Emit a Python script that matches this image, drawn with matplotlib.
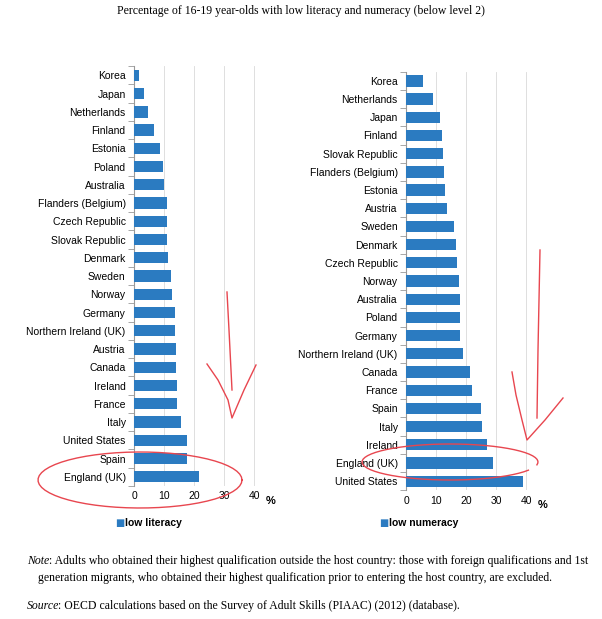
import matplotlib
matplotlib.use("Agg")
import matplotlib.pyplot as plt
import numpy as np

lit_countries = ["Korea","Japan","Netherlands","Finland","Estonia","Poland","Australia",
    "Flanders (Belgium)","Czech Republic","Slovak Republic","Denmark","Sweden","Norway",
    "Germany","Northern Ireland (UK)","Austria","Canada","Ireland","France","Italy",
    "United States","Spain","England (UK)"]
lit_values = [1.7,3.3,4.8,6.7,8.6,9.5,10.1,10.9,11.0,11.1,11.4,12.4,12.6,13.6,13.7,14.0,
    14.1,14.2,14.3,15.8,17.6,17.7,21.5]
num_countries = ["Korea","Netherlands","Japan","Finland","Slovak Republic","Flanders (Belgium)",
    "Estonia","Austria","Sweden","Denmark","Czech Republic","Norway","Australia","Poland",
    "Germany","Northern Ireland (UK)","Canada","France","Spain","Italy","Ireland",
    "England (UK)","United States"]
num_values = [5.7,8.9,11.2,12.1,12.3,12.6,12.9,13.8,15.9,16.6,17.1,17.7,17.9,18.0,18.1,
    19.1,21.4,22.0,24.9,25.2,27.1,29.0,38.8]
xticks = [0,10,20,30,40]

BAR = "#2B7BC1"
sans = "Liberation Sans"
serif = "Liberation Serif"
fig = plt.figure(figsize=(6.02,6.19), dpi=100)

def panel(rect, cats, vals, label, legx):
    ax = fig.add_axes(rect)
    y = np.arange(len(cats))
    ax.barh(y, vals, height=0.62, color=BAR, zorder=3)
    ax.set_ylim(len(cats)-0.5, -0.5)
    ax.set_yticks(y)
    ax.set_yticklabels(cats, fontsize=7.5, family=sans)
    ax.set_yticks(np.arange(len(cats)+1)-0.5, minor=True)
    ax.tick_params(axis='y', which='major', length=0, pad=6)
    ax.tick_params(axis='y', which='minor', length=4, color="#999999")
    ax.set_xlim(0, 40.3)
    ax.set_xticks(xticks)
    ax.set_xticklabels([str(t) for t in xticks], fontsize=7.5, family=sans)
    ax.tick_params(axis='x', length=0, pad=4)
    ax.grid(axis='x', color="#d9d9d9", lw=0.6, zorder=0)
    for s in ["top","right","bottom"]:
        ax.spines[s].set_visible(False)
    ax.spines["left"].set_color("#999999")
    ax.text(1.09, -0.035, "%", transform=ax.transAxes, fontsize=8, family=sans,
            fontweight="bold", va="center")
    fig.text(legx, 0.155, "\u25a0", color=BAR, fontsize=7, va="center", family="DejaVu Sans")
    fig.text(legx+0.016, 0.155, label, fontsize=7.5, fontweight="bold", family=sans, va="center")
    return ax

panel([0.2226,0.215,0.201,0.678], lit_countries, lit_values, "low literacy", 0.192)
panel([0.6745,0.208,0.201,0.676], num_countries, num_values, "low numeracy", 0.630)

fig.text(0.5, 0.982, "Percentage of 16-19 year-olds with low literacy and numeracy (below level 2)",
         ha="center", va="center", fontsize=8.5, family=serif)
fig.text(0.045, 0.093, "Note", fontsize=8.5, family=serif, style="italic", va="center")
fig.text(0.081, 0.093, ": Adults who obtained their highest qualification outside the host country: those with foreign qualifications and 1st",
         fontsize=8.5, family=serif, va="center")
fig.text(0.063, 0.067, "generation migrants, who obtained their highest qualification prior to entering the host country, are excluded.",
         fontsize=8.5, family=serif, va="center")
fig.text(0.045, 0.021, "Source", fontsize=8.5, family=serif, style="italic", va="center")
fig.text(0.097, 0.021, ": OECD calculations based on the Survey of Adult Skills (PIAAC) (2012) (database).",
         fontsize=8.5, family=serif, va="center")

# hand-drawn red annotations (figure pixel coords)
RED = "#e8464f"
def pix(xs, ys):
    return [x/602 for x in xs], [1-y/619 for y in ys]
def draw(xs, ys):
    px, py = pix(xs, ys)
    fig.add_artist(plt.Line2D(px, py, color=RED, lw=1.0, transform=fig.transFigure))
t = np.linspace(0, 2*np.pi, 60)
draw(list(140+102*np.cos(t)), list(480+28*np.sin(t)))
draw([227,229,231,232], [292,330,370,390])
draw([207,218,228,232,244,256], [364,380,400,418,390,365])
draw([540,539,538,537], [250,300,350,418])
draw([512,516,522,527,545,563], [372,395,420,440,420,398])
t2 = np.linspace(0.15*np.pi, 2.05*np.pi, 60)
draw(list(450+88*np.cos(t2)), list(462+18*np.sin(t2)))

fig.savefig("out.png", dpi=100, facecolor="white")
